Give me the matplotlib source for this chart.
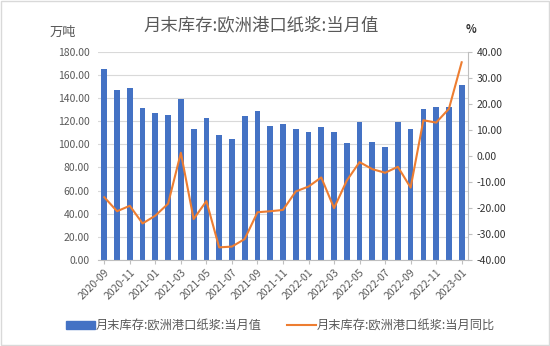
import matplotlib
matplotlib.use('Agg')
import matplotlib.pyplot as plt
from matplotlib.patches import Rectangle

plt.rcParams['font.family'] = ['Noto Sans CJK SC', 'DejaVu Sans']

months = ['2020-09', '2020-10', '2020-11', '2020-12', '2021-01', '2021-02', '2021-03',
          '2021-04', '2021-05', '2021-06', '2021-07', '2021-08', '2021-09', '2021-10',
          '2021-11', '2021-12', '2022-01', '2022-02', '2022-03', '2022-04', '2022-05',
          '2022-06', '2022-07', '2022-08', '2022-09', '2022-10', '2022-11', '2022-12',
          '2023-01']
stock = [165.5, 147.3, 148.5, 131.7, 127.3, 125.6, 138.9, 112.9, 122.4, 108.2,
         104.5, 124.2, 128.5, 115.5, 117.6, 112.9, 110.6, 114.9, 110.6, 101.1,
         119.2, 102.0, 97.4, 119.2, 112.9, 131.0, 132.5, 132.5, 151.2]
yoy = [-15.9, -21.3, -19.2, -26.0, -23.0, -18.4, 1.2, -24.3, -17.4, -35.2,
       -34.9, -32.0, -21.7, -21.3, -20.8, -13.7, -11.8, -8.3, -20.1, -9.5,
       -2.4, -5.1, -6.5, -4.2, -12.2, 13.7, 12.8, 18.1, 36.0]

bar_name = '月末库存:欧洲港口纸浆:当月值'
line_name = '月末库存:欧洲港口纸浆:当月同比'
bar_color = '#4472C4'
line_color = '#ED7D31'
text_color = '#595959'

fig = plt.figure(figsize=(5.5, 3.46), dpi=100)
ax = fig.add_axes([0.178, 0.249, 0.673, 0.601])
x = list(range(len(months)))

ax.bar(x, stock, width=0.45, color=bar_color, zorder=2)
ax.set_ylim(0, 180)
ax.set_yticks(range(0, 181, 20))
ax.set_yticklabels([f'{v:.2f}' for v in range(0, 181, 20)], fontsize=7.5, color=text_color)
ax.set_xlim(-0.5, len(months) - 0.5)
ax.set_xticks(x[::2])
ax.set_xticklabels(months[::2], rotation=45, ha='right', rotation_mode='anchor',
                   fontsize=7.5, color=text_color)
ax.grid(axis='y', color='#D9D9D9', linewidth=0.8, zorder=0)
ax.tick_params(axis='y', length=0, pad=6)
ax.tick_params(axis='x', length=3, color='#BFBFBF', pad=2)
for s in ['top', 'right', 'left']:
    ax.spines[s].set_visible(False)
ax.spines['bottom'].set_color('#BFBFBF')

ax2 = ax.twinx()
ax2.plot(x, yoy, color=line_color, linewidth=1.5, zorder=3)
ax2.set_ylim(-40, 40)
ax2.set_yticks(range(-40, 41, 10))
ax2.set_yticklabels([f'{v:.2f}' for v in range(-40, 41, 10)], fontsize=7.5, color='#333333')
ax2.tick_params(axis='y', length=3, color='#BFBFBF', pad=3)
for s in ['top', 'left', 'bottom']:
    ax2.spines[s].set_visible(False)
ax2.spines['right'].set_color('#BFBFBF')

fig.text(0.475, 0.927, bar_name, ha='center', va='center', fontsize=12.5, color=text_color)
fig.text(0.09, 0.905, '万吨', ha='left', va='center', fontsize=9.5, color=text_color)
fig.text(0.857, 0.915, '%', ha='center', va='center', fontsize=8, color='#333333',
         fontweight='bold')

handles = [Rectangle((0, 0), 1, 1, color=bar_color),
           plt.Line2D([0], [0], color=line_color, linewidth=1.5)]
fig.legend(handles, [bar_name, line_name], loc='center', bbox_to_anchor=(0.51, 0.058),
           ncol=2, frameon=False, fontsize=8.8, handlelength=2.4, handletextpad=0.1,
           columnspacing=2.0, labelcolor=text_color)

fig.add_artist(Rectangle((0.002, 0.003), 0.996, 0.994, transform=fig.transFigure,
                         fill=False, edgecolor='#D9D9D9', linewidth=1))

fig.savefig('out.png', dpi=100)
